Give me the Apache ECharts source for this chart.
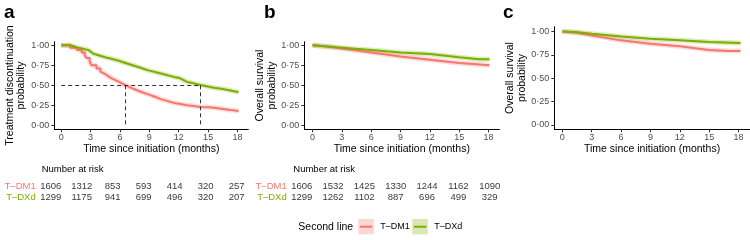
<!DOCTYPE html>
<html>
<head>
<meta charset="utf-8">
<script src="https://cdn.jsdelivr.net/npm/echarts@6/dist/echarts.min.js"></script>
<style>
  html, body { margin: 0; padding: 0; background: #fff; }
  #chart { width: 750px; height: 240px; }
</style>
</head>
<body>
<div id="chart"></div>
<script>
const RED = '#F8766D'
const GREEN = '#7CAE00'
const FONT = 'Liberation Sans, Arial, sans-serif'

// axis ticks
const xTicks = [0, 3, 6, 9, 12, 15, 18]
const yTicks = [0, 0.25, 0.5, 0.75, 1]

// a: treatment discontinuation
const discDM1 = [
  [0, 1], [0.9, 1], [0.9, 0.97], [1.6, 0.97], [1.6, 0.94], [2.1, 0.94], [2.1, 0.91],
  [2.4, 0.91], [2.4, 0.875], [2.6, 0.875], [2.6, 0.84], [2.9, 0.84], [2.9, 0.80],
  [3.1, 0.80], [3.1, 0.75], [3.6, 0.75], [3.6, 0.71], [4.0, 0.71], [4.0, 0.67],
  [4.5, 0.64], [5.1, 0.59], [5.8, 0.55], [6.5, 0.505], [7.5, 0.45], [8.1, 0.42],
  [8.8, 0.39], [9.5, 0.36], [10.1, 0.33], [10.8, 0.305], [11.5, 0.28], [12.2, 0.265],
  [12.8, 0.25], [13.5, 0.24], [14.2, 0.23], [15.0, 0.225], [15.6, 0.22], [16.5, 0.205],
  [17.3, 0.19], [18.1, 0.18]
]
const discDXd = [
  [0, 1], [1.0, 1], [1.0, 0.985], [1.5, 0.975], [2.1, 0.96], [2.8, 0.94], [3.0, 0.92],
  [3.3, 0.895], [4.5, 0.85], [5.8, 0.81], [6.8, 0.77], [8.1, 0.72], [8.8, 0.69],
  [10.1, 0.65], [11.5, 0.605], [12.1, 0.59], [12.8, 0.545], [14.2, 0.505], [15.6, 0.47],
  [16.5, 0.455], [17.9, 0.42], [18.1, 0.415]
]
const medians = [6.54, 14.2]

// b: overall survival
const osDM1 = [[0, 1], [1.5, 0.985], [3, 0.96], [6, 0.91], [9, 0.86], [12, 0.82], [15, 0.78], [18.1, 0.75]]
const osDXd = [[0, 1], [3, 0.97], [6, 0.94], [9, 0.91], [12, 0.89], [15, 0.85], [17, 0.825], [18.1, 0.825]]

// c: overall survival
const os2DM1 = [[0, 1], [1.5, 0.985], [3, 0.957], [6, 0.904], [9, 0.868], [12, 0.84], [15, 0.80], [17, 0.79], [18.2, 0.79]]
const os2DXd = [[0, 1], [1.5, 0.99], [3, 0.975], [6, 0.946], [9, 0.92], [12, 0.904], [15, 0.886], [18.2, 0.875]]

// number at risk
const riskRows = ['T–DM1', 'T–DXd']
const riskA_DM1 = [1606, 1312, 853, 593, 414, 320, 257]
const riskA_DXd = [1299, 1175, 941, 699, 496, 320, 207]
const riskB_DM1 = [1606, 1532, 1425, 1330, 1244, 1162, 1090]
const riskB_DXd = [1299, 1262, 1102, 887, 696, 499, 329]

const chart = echarts.init(document.getElementById('chart'))

const panelX = (i, min, max) => ({
  gridIndex: i, type: 'value', min, max,
  axisLine: { show: true, onZero: false, lineStyle: { color: '#000', width: 1 } },
  axisTick: { show: true, length: 3, customValues: xTicks, lineStyle: { color: '#333' } },
  axisLabel: { customValues: xTicks, fontSize: 9, color: '#4d4d4d', margin: 4, fontFamily: FONT },
  splitLine: { show: false },
  name: 'Time since initiation (months)', nameLocation: 'middle', nameGap: 13,
  nameTextStyle: { fontSize: 10.5, color: '#000', fontFamily: FONT }
})

const panelY = (i, min, max, name, gap) => ({
  gridIndex: i, type: 'value', min, max,
  axisLine: { show: true, onZero: false, lineStyle: { color: '#000', width: 1 } },
  axisTick: { show: true, length: 3, customValues: yTicks, lineStyle: { color: '#333' } },
  axisLabel: {
    customValues: yTicks, fontSize: 9, color: '#4d4d4d', margin: 5, fontFamily: FONT,
    formatter: (v) => v.toFixed(2).replace('.', '·')
  },
  splitLine: { show: false },
  name, nameLocation: 'middle', nameRotate: 90, nameGap: gap,
  nameTextStyle: { fontSize: 10.5, color: '#000', lineHeight: 11.5, fontFamily: FONT }
})

const tableX = (i) => ({ gridIndex: i, type: 'value', min: 0, max: 18, show: false })
const tableY = (i) => ({
  gridIndex: i, type: 'category', data: riskRows, inverse: true,
  axisLine: { show: false }, axisTick: { show: false }, splitLine: { show: false },
  axisLabel: {
    interval: 0, fontSize: 9.5, margin: 15, fontFamily: FONT,
    color: (v) => (v === 'T–DM1' ? RED : GREEN)
  }
})

// KM curve = faint band + line
const curve = (data, color, idx) => [
  {
    type: 'line', xAxisIndex: idx, yAxisIndex: idx, data, showSymbol: false,
    lineStyle: { color, width: 5, opacity: 0.25 }, silent: true, z: 2
  },
  {
    type: 'line', xAxisIndex: idx, yAxisIndex: idx, data, showSymbol: false,
    lineStyle: { color, width: 2 }, z: 3
  }
]

const riskSeries = (idx, values, row) => ({
  type: 'scatter', xAxisIndex: idx, yAxisIndex: idx, symbolSize: 1,
  itemStyle: { color: 'rgba(0,0,0,0)' },
  data: values.map((n, k) => [xTicks[k], row, n]),
  label: {
    show: true, position: 'inside', formatter: (p) => p.value[2],
    fontSize: 9.5, color: '#000', fontFamily: FONT
  }
})

const medianLines = {
  type: 'line', xAxisIndex: 0, yAxisIndex: 0, data: [], z: 4,
  markLine: {
    silent: true, symbol: 'none', label: { show: false },
    lineStyle: { type: [4, 3], color: '#333', width: 1 },
    data: [
      [{ coord: [0, 0.5] }, { coord: [medians[1], 0.5] }],
      [{ coord: [medians[0], 0.5] }, { coord: [medians[0], 0] }],
      [{ coord: [medians[1], 0.5] }, { coord: [medians[1], 0] }]
    ]
  }
}

const legendKey = (x, fill, color, label) => [
  { type: 'rect', shape: { x, y: 219, width: 15.5, height: 15.3 }, style: { fill } },
  { type: 'line', shape: { x1: x + 1.5, y1: 226.7, x2: x + 14, y2: 226.7 }, style: { stroke: color, lineWidth: 2 } },
  { type: 'text', x: x + 22, y: 226.7, style: { text: label, font: '9px ' + FONT, fill: '#000', verticalAlign: 'middle' } }
]

chart.setOption({
  animation: false,
  title: [
    { text: 'a', left: 4, top: 3, padding: 0, textStyle: { fontSize: 19, fontWeight: 'bold', color: '#000', fontFamily: FONT } },
    { text: 'b', left: 264, top: 3, padding: 0, textStyle: { fontSize: 19, fontWeight: 'bold', color: '#000', fontFamily: FONT } },
    { text: 'c', left: 503, top: 3, padding: 0, textStyle: { fontSize: 19, fontWeight: 'bold', color: '#000', fontFamily: FONT } },
    { text: 'Number at risk', left: 41.7, top: 164, padding: 0, textStyle: { fontSize: 9.5, fontWeight: 'normal', color: '#000', fontFamily: FONT } },
    { text: 'Number at risk', left: 293.3, top: 164, padding: 0, textStyle: { fontSize: 9.5, fontWeight: 'normal', color: '#000', fontFamily: FONT } }
  ],
  grid: [
    { left: 54.3, top: 41.7, width: 194, height: 87.6 },
    { left: 304.3, top: 41.7, width: 195, height: 87.6 },
    { left: 554.3, top: 26.7, width: 195.5, height: 102.6 },
    { left: 50.7, top: 181.2, width: 186, height: 22 },
    { left: 301.7, top: 181.2, width: 188, height: 22 }
  ],
  xAxis: [
    panelX(0, -0.7, 19.1),
    panelX(1, -0.84, 19.1),
    panelX(2, -0.82, 19.15),
    tableX(3),
    tableX(4)
  ],
  yAxis: [
    panelY(0, -0.05, 1.045, 'Treatment discontinuation\nprobability', 27),
    panelY(1, -0.05, 1.045, 'Overall survival\nprobability', 24),
    panelY(2, -0.046, 1.05, 'Overall survival\nprobability', 24),
    tableY(3),
    tableY(4)
  ],
  series: [
    ...curve(discDM1, RED, 0),
    ...curve(discDXd, GREEN, 0),
    medianLines,
    ...curve(osDM1, RED, 1),
    ...curve(osDXd, GREEN, 1),
    ...curve(os2DM1, RED, 2),
    ...curve(os2DXd, GREEN, 2),
    riskSeries(3, riskA_DM1, 'T–DM1'),
    riskSeries(3, riskA_DXd, 'T–DXd'),
    riskSeries(4, riskB_DM1, 'T–DM1'),
    riskSeries(4, riskB_DXd, 'T–DXd')
  ],
  graphic: [
    { type: 'text', x: 298.3, y: 226.7, style: { text: 'Second line', font: '10.5px ' + FONT, fill: '#000', verticalAlign: 'middle' } },
    ...legendKey(358.3, '#FDD6D3', RED, 'T–DM1'),
    ...legendKey(412.3, '#D8E7B3', GREEN, 'T–DXd')
  ]
})
</script>
</body>
</html>
